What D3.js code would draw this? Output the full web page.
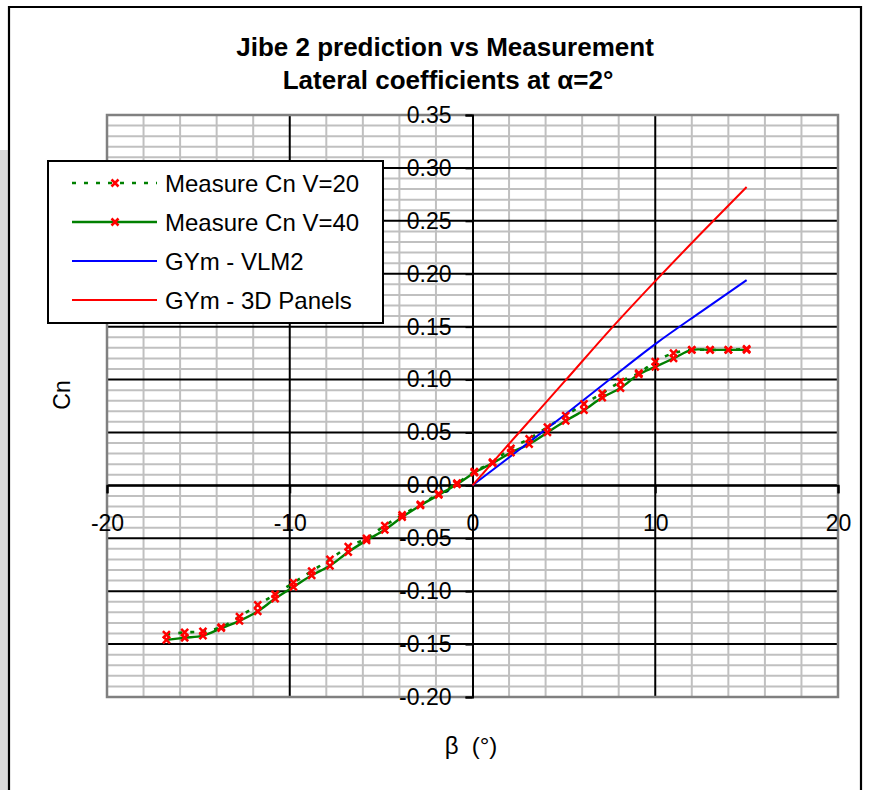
<!DOCTYPE html>
<html>
<head>
<meta charset="utf-8">
<script src="https://cdn.jsdelivr.net/npm/d3@7/dist/d3.min.js"></script>
<style>
  html, body { margin: 0; padding: 0; background: #ffffff; }
  svg { display: block; }
  text { font-family: "Liberation Sans", Arial, sans-serif; fill: #000; }
</style>
</head>
<body>
<script>
// ---------------- data ----------------
const betaMeasured = [-16.75, -15.75, -14.75, -13.75, -12.75, -11.75, -10.8, -9.8, -8.8, -7.8, -6.8, -5.8, -4.8, -3.85, -2.85, -1.85, -0.85,
                      0.1, 1.1, 2.1, 3.1, 4.1, 5.1, 6.1, 7.1, 8.1, 9.1, 10, 11, 12, 13, 14, 15];
const cnV20 = [-0.141, -0.139, -0.138, -0.134, -0.124, -0.113, -0.103, -0.092, -0.081, -0.070, -0.058, -0.050, -0.038, -0.028, -0.018, -0.008, 0.002,
               0.013, 0.022, 0.035, 0.044, 0.055, 0.066, 0.077, 0.087, 0.098, 0.106, 0.117, 0.125, 0.128, 0.128, 0.128, 0.129];
const cnV40 = [-0.146, -0.144, -0.142, -0.135, -0.128, -0.119, -0.107, -0.096, -0.085, -0.076, -0.063, -0.052, -0.042, -0.030, -0.019, -0.009, 0.001,
               0.012, 0.021, 0.031, 0.039, 0.050, 0.061, 0.071, 0.083, 0.092, 0.105, 0.112, 0.120, 0.128, 0.128, 0.128, 0.128];
const betaModel = [0, 2.5, 5, 7.5, 10, 12.5, 15];
const cnVLM2 = [0, 0.033, 0.066, 0.100, 0.1335, 0.164, 0.194];
const cn3DPanels = [0, 0.049, 0.0975, 0.1465, 0.193, 0.238, 0.282];

const xTicks = [-20, -10, 0, 10, 20];
const yTicks = [-0.20, -0.15, -0.10, -0.05, 0.00, 0.05, 0.10, 0.15, 0.20, 0.25, 0.30, 0.35];
const titleLines = ["Jibe 2 prediction vs Measurement", "Lateral coefficients at \u03b1=2\u00b0"];
const xTitle = "\u03b2  (\u00b0)";
const yTitle = "Cn";
const seriesNames = ["Measure Cn V=20", "Measure Cn V=40", "GYm - VLM2", "GYm - 3D Panels"];

// ---------------- layout ----------------
const W = 873, H = 790;
const svg = d3.select("body").append("svg").attr("width", W).attr("height", H);

svg.append("rect").attr("x", 0).attr("y", 0).attr("width", W).attr("height", H).attr("fill", "#fff");
svg.append("rect").attr("x", 0).attr("y", 150).attr("width", 8).attr("height", H - 150).attr("fill", "#d8d8d8");
// outer frame
svg.append("path").attr("d", `M9,${H + 5} L9,7 L861,7 L861,${H + 5}`)
  .attr("fill", "none").attr("stroke", "#000").attr("stroke-width", 2.2);

const x = d3.scaleLinear().domain([-20, 20]).range([107, 838]);
const y = d3.scaleLinear().domain([-0.20, 0.35]).range([697, 115]);

const g = svg.append("g");

// minor grid
const minorX = d3.range(-20, 20.001, 2).filter(v => v % 10 !== 0);
const minorY = d3.range(-20, 35.001, 1).filter(v => v % 5 !== 0).map(v => v / 100);
g.selectAll(".mgx").data(minorX).enter().append("line")
  .attr("x1", d => x(d)).attr("x2", d => x(d)).attr("y1", y(0.35)).attr("y2", y(-0.20))
  .attr("stroke", "#c0c0c0").attr("stroke-width", 2);
g.selectAll(".mgy").data(minorY).enter().append("line")
  .attr("x1", x(-20)).attr("x2", x(20)).attr("y1", d => y(d)).attr("y2", d => y(d))
  .attr("stroke", "#c0c0c0").attr("stroke-width", 2);

// major grid
g.selectAll(".Mgx").data([-10, 10]).enter().append("line")
  .attr("x1", d => x(d)).attr("x2", d => x(d)).attr("y1", y(0.35)).attr("y2", y(-0.20))
  .attr("stroke", "#000").attr("stroke-width", 2);
g.selectAll(".Mgy").data(yTicks.filter(v => v > -0.19 && v < 0.34)).enter().append("line")
  .attr("x1", x(-20)).attr("x2", x(20)).attr("y1", d => y(d)).attr("y2", d => y(d))
  .attr("stroke", "#000").attr("stroke-width", 2);

// plot border
g.append("rect").attr("x", x(-20)).attr("y", y(0.35)).attr("width", x(20) - x(-20)).attr("height", y(-0.20) - y(0.35))
  .attr("fill", "none").attr("stroke", "#808080").attr("stroke-width", 2.5);

// axes
const yAxis = d3.axisLeft(y).tickValues(yTicks).tickSize(7).tickPadding(14).tickFormat(d => d.toFixed(2));
const yAx = g.append("g").attr("transform", `translate(${x(0)},0)`).call(yAxis);
yAx.select(".domain").attr("stroke", "#000").attr("stroke-width", 2);
yAx.selectAll(".tick line").attr("stroke", "#000").attr("stroke-width", 2);
yAx.selectAll("text").attr("font-size", 23).attr("font-family", "Liberation Sans, Arial, sans-serif").attr("fill", "#000");

const xAxis = d3.axisBottom(x).tickValues(xTicks).tickSize(8).tickPadding(18).tickFormat(d => String(d));
const xAx = g.append("g").attr("transform", `translate(0,${y(0)})`).call(xAxis);
xAx.select(".domain").attr("stroke", "#000").attr("stroke-width", 2);
xAx.selectAll(".tick line").attr("stroke", "#000").attr("stroke-width", 2);
xAx.selectAll("text").attr("font-size", 23).attr("font-family", "Liberation Sans, Arial, sans-serif").attr("fill", "#000")
  .attr("dy", "0.35em").attr("y", 38);

// series lines
const measV20 = betaMeasured.map((b, i) => [b, cnV20[i]]);
const measV40 = betaMeasured.map((b, i) => [b, cnV40[i]]);
const vlm = betaModel.map((b, i) => [b, cnVLM2[i]]);
const pan = betaModel.map((b, i) => [b, cn3DPanels[i]]);

const lineSmooth = d3.line().x(d => x(d[0])).y(d => y(d[1])).curve(d3.curveCatmullRom.alpha(0.5));
const lineStraight = d3.line().x(d => x(d[0])).y(d => y(d[1])).curve(d3.curveMonotoneX);

g.append("path").attr("d", lineSmooth(measV20)).attr("fill", "none").attr("stroke", "#008000")
  .attr("stroke-width", 2.6).attr("stroke-dasharray", "4 8");
g.append("path").attr("d", lineSmooth(measV40)).attr("fill", "none").attr("stroke", "#008000").attr("stroke-width", 2.4);
g.append("path").attr("d", lineStraight(vlm)).attr("fill", "none").attr("stroke", "#0000ff").attr("stroke-width", 2);
g.append("path").attr("d", lineStraight(pan)).attr("fill", "none").attr("stroke", "#ff0000").attr("stroke-width", 2);

function xMark(s) {
  return `M${-s},${-s}L${s},${s}M${-s},${s}L${s},${-s}`;
}
const markSize = 3.5;
[measV20, measV40].forEach(data => {
  g.append("g").selectAll("path").data(data).enter().append("path")
    .attr("transform", d => `translate(${x(d[0])},${y(d[1])})`)
    .attr("d", xMark(markSize))
    .attr("stroke", "#ff0000").attr("stroke-width", 2.5).attr("fill", "none");
});

// titles
svg.append("text").attr("x", 445).attr("y", 47).attr("text-anchor", "middle").attr("dominant-baseline", "central")
  .attr("font-size", 26).attr("font-weight", "bold").text(titleLines[0]);
svg.append("text").attr("x", 448).attr("y", 80).attr("text-anchor", "middle").attr("dominant-baseline", "central")
  .attr("font-size", 26).attr("font-weight", "bold").text(titleLines[1]);
svg.append("text").attr("x", 471).attr("y", 745).attr("text-anchor", "middle").attr("dominant-baseline", "central")
  .attr("font-size", 24).attr("xml:space", "preserve").style("white-space", "pre").text(xTitle);
svg.append("text").attr("transform", "translate(62,395) rotate(-90)").attr("text-anchor", "middle").attr("dominant-baseline", "central")
  .attr("font-size", 23).text(yTitle);

// legend
const leg = svg.append("g");
leg.append("rect").attr("x", 48).attr("y", 161).attr("width", 335).attr("height", 162)
  .attr("fill", "#fff").attr("stroke", "#000").attr("stroke-width", 2);
const rowY = [183, 222, 261, 300];
const legStyles = [
  { color: "#008000", dash: "4 8", marker: true, w: 2.6 },
  { color: "#008000", dash: null, marker: true, w: 2.4 },
  { color: "#0000ff", dash: null, marker: false, w: 2 },
  { color: "#ff0000", dash: null, marker: false, w: 2 }
];
seriesNames.forEach((name, i) => {
  const st = legStyles[i];
  const ln = leg.append("line").attr("x1", 72).attr("x2", 157).attr("y1", rowY[i]).attr("y2", rowY[i])
    .attr("stroke", st.color).attr("stroke-width", st.w);
  if (st.dash) ln.attr("stroke-dasharray", st.dash);
  if (st.marker) {
    leg.append("path").attr("transform", `translate(115,${rowY[i]})`).attr("d", xMark(markSize))
      .attr("stroke", "#ff0000").attr("stroke-width", 2.5).attr("fill", "none");
  }
  leg.append("text").attr("x", 165).attr("y", rowY[i]).attr("dominant-baseline", "central")
    .attr("font-size", 24).text(name);
});
</script>
</body>
</html>
